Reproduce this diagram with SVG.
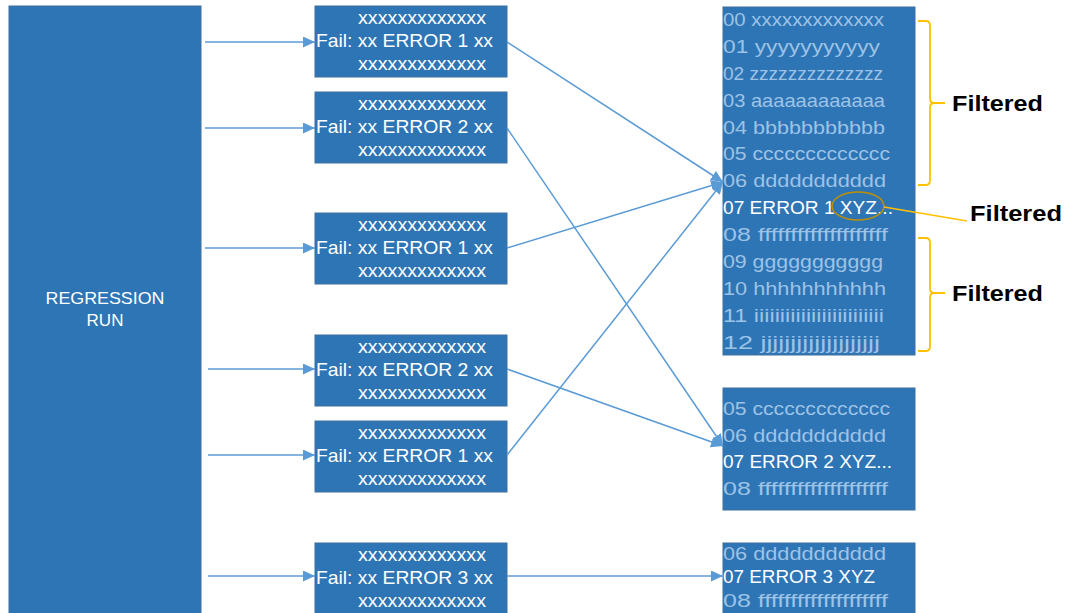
<svg xmlns="http://www.w3.org/2000/svg" width="1068" height="613" viewBox="0 0 1068 613">
<defs>
<style>
.box{fill:#2E75B6;stroke:#41719C;stroke-width:1}
.t{font-family:"Liberation Sans",Arial,sans-serif;font-size:19px;fill:#FFFFFF}
.d{font-family:"Liberation Sans",Arial,sans-serif;font-size:19px;fill:#9DC3E6}
.lbl{font-family:"Liberation Sans",Arial,sans-serif;font-size:22px;font-weight:bold;fill:#000000}
.c{fill:none;stroke:#5B9BD5;stroke-width:1.5}
.br{fill:none;stroke:#FFC000;stroke-width:1.8}
</style>
<marker id="ah" markerUnits="userSpaceOnUse" markerWidth="14" markerHeight="12" refX="12" refY="5.5" orient="auto">
<path d="M0,0 L12,5.5 L0,11 z" fill="#5B9BD5"/>
</marker>
</defs>

<g id="regression-run">
<rect class="box" x="9" y="6" width="192" height="615"/>
<text class="t" x="105" y="304" text-anchor="middle" textLength="119" lengthAdjust="spacingAndGlyphs" style="font-size:17px">REGRESSION</text>
<text class="t" x="105" y="326" text-anchor="middle" style="font-size:17px">RUN</text>
</g>

<g id="fail1">
<rect class="box" x="315" y="6" width="192" height="71"/>
<text class="t" x="358" y="24" textLength="128" lengthAdjust="spacingAndGlyphs">xxxxxxxxxxxxx</text>
<text class="t" x="316" y="47" textLength="177" lengthAdjust="spacingAndGlyphs">Fail: xx ERROR 1 xx</text>
<text class="t" x="358" y="70" textLength="128" lengthAdjust="spacingAndGlyphs">xxxxxxxxxxxxx</text>
</g>
<g id="fail2">
<rect class="box" x="315" y="92" width="192" height="71"/>
<text class="t" x="358" y="110" textLength="128" lengthAdjust="spacingAndGlyphs">xxxxxxxxxxxxx</text>
<text class="t" x="316" y="133" textLength="177" lengthAdjust="spacingAndGlyphs">Fail: xx ERROR 2 xx</text>
<text class="t" x="358" y="156" textLength="128" lengthAdjust="spacingAndGlyphs">xxxxxxxxxxxxx</text>
</g>
<g id="fail3">
<rect class="box" x="315" y="213" width="192" height="71"/>
<text class="t" x="358" y="231" textLength="128" lengthAdjust="spacingAndGlyphs">xxxxxxxxxxxxx</text>
<text class="t" x="316" y="254" textLength="177" lengthAdjust="spacingAndGlyphs">Fail: xx ERROR 1 xx</text>
<text class="t" x="358" y="277" textLength="128" lengthAdjust="spacingAndGlyphs">xxxxxxxxxxxxx</text>
</g>
<g id="fail4">
<rect class="box" x="315" y="335" width="192" height="71"/>
<text class="t" x="358" y="353" textLength="128" lengthAdjust="spacingAndGlyphs">xxxxxxxxxxxxx</text>
<text class="t" x="316" y="376" textLength="177" lengthAdjust="spacingAndGlyphs">Fail: xx ERROR 2 xx</text>
<text class="t" x="358" y="399" textLength="128" lengthAdjust="spacingAndGlyphs">xxxxxxxxxxxxx</text>
</g>
<g id="fail5">
<rect class="box" x="315" y="421" width="192" height="71"/>
<text class="t" x="358" y="439" textLength="128" lengthAdjust="spacingAndGlyphs">xxxxxxxxxxxxx</text>
<text class="t" x="316" y="462" textLength="177" lengthAdjust="spacingAndGlyphs">Fail: xx ERROR 1 xx</text>
<text class="t" x="358" y="485" textLength="128" lengthAdjust="spacingAndGlyphs">xxxxxxxxxxxxx</text>
</g>
<g id="fail6">
<rect class="box" x="315" y="543" width="192" height="75"/>
<text class="t" x="358" y="561" textLength="128" lengthAdjust="spacingAndGlyphs">xxxxxxxxxxxxx</text>
<text class="t" x="316" y="584" textLength="177" lengthAdjust="spacingAndGlyphs">Fail: xx ERROR 3 xx</text>
<text class="t" x="358" y="607" textLength="128" lengthAdjust="spacingAndGlyphs">xxxxxxxxxxxxx</text>
</g>

<g id="log1">
<rect class="box" x="723" y="7" width="192" height="348"/>
<text class="d" x="723" y="26" textLength="161" lengthAdjust="spacingAndGlyphs">00 xxxxxxxxxxxxx</text>
<text class="d" x="723" y="53" textLength="157" lengthAdjust="spacingAndGlyphs">01 yyyyyyyyyyy</text>
<text class="d" x="723" y="80" textLength="160" lengthAdjust="spacingAndGlyphs">02 zzzzzzzzzzzzzz</text>
<text class="d" x="723" y="107" textLength="162" lengthAdjust="spacingAndGlyphs">03 aaaaaaaaaaaa</text>
<text class="d" x="723" y="134" textLength="162" lengthAdjust="spacingAndGlyphs">04 bbbbbbbbbbb</text>
<text class="d" x="723" y="160" textLength="167" lengthAdjust="spacingAndGlyphs">05 ccccccccccccc</text>
<text class="d" x="723" y="187" textLength="163" lengthAdjust="spacingAndGlyphs">06 ddddddddddd</text>
<text class="t" x="723" y="214" textLength="170" lengthAdjust="spacingAndGlyphs">07 ERROR 1 XYZ...</text>
<text class="d" x="723" y="241" textLength="165" lengthAdjust="spacingAndGlyphs">08 ffffffffffffffffffff</text>
<text class="d" x="723" y="268" textLength="160" lengthAdjust="spacingAndGlyphs">09 ggggggggggg</text>
<text class="d" x="723" y="295" textLength="163" lengthAdjust="spacingAndGlyphs">10 hhhhhhhhhhh</text>
<text class="d" x="723" y="322" textLength="161" lengthAdjust="spacingAndGlyphs">11 iiiiiiiiiiiiiiiiiiiiiiiii</text>
<text class="d" x="723" y="349" textLength="157" lengthAdjust="spacingAndGlyphs">12 jjjjjjjjjjjjjjjjjjjj</text>
</g>
<g id="log2">
<rect class="box" x="723" y="388" width="192" height="122"/>
<text class="d" x="723" y="415" textLength="167" lengthAdjust="spacingAndGlyphs">05 ccccccccccccc</text>
<text class="d" x="723" y="442" textLength="163" lengthAdjust="spacingAndGlyphs">06 ddddddddddd</text>
<text class="t" x="723" y="468" textLength="169" lengthAdjust="spacingAndGlyphs">07 ERROR 2 XYZ...</text>
<text class="d" x="723" y="495" textLength="165" lengthAdjust="spacingAndGlyphs">08 ffffffffffffffffffff</text>
</g>
<g id="log3">
<rect class="box" x="723" y="543" width="192" height="75"/>
<text class="d" x="723" y="560" textLength="163" lengthAdjust="spacingAndGlyphs">06 ddddddddddd</text>
<text class="t" x="723" y="583" textLength="152" lengthAdjust="spacingAndGlyphs">07 ERROR 3 XYZ</text>
<text class="d" x="723" y="607" textLength="165" lengthAdjust="spacingAndGlyphs">08 ffffffffffffffffffff</text>
</g>

<g id="connectors">
<line class="c" x1="205" y1="42" x2="315" y2="42" marker-end="url(#ah)"/>
<line class="c" x1="205" y1="128" x2="315" y2="128" marker-end="url(#ah)"/>
<line class="c" x1="205" y1="248" x2="315" y2="248" marker-end="url(#ah)"/>
<line class="c" x1="208" y1="369" x2="315" y2="369" marker-end="url(#ah)"/>
<line class="c" x1="208" y1="455" x2="315" y2="455" marker-end="url(#ah)"/>
<line class="c" x1="208" y1="576" x2="315" y2="576" marker-end="url(#ah)"/>
<line class="c" x1="507" y1="42" x2="723" y2="182" marker-end="url(#ah)"/>
<line class="c" x1="507" y1="248" x2="723" y2="182" marker-end="url(#ah)"/>
<line class="c" x1="507" y1="455" x2="723" y2="182" marker-end="url(#ah)"/>
<line class="c" x1="507" y1="128" x2="723" y2="446" marker-end="url(#ah)"/>
<line class="c" x1="507" y1="369" x2="723" y2="446" marker-end="url(#ah)"/>
<line class="c" x1="507" y1="576" x2="723" y2="576" marker-end="url(#ah)"/>
</g>

<g id="filtered-top">
<path class="br" d="M918,21 H926 Q930,21 930,26 V98 Q930,103 934,103 H945 M934,103 Q930,103 930,108 V180 Q930,185 926,185 H918"/>
<text class="lbl" x="952" y="111" textLength="91" lengthAdjust="spacingAndGlyphs">Filtered</text>
</g>
<g id="filtered-mid">
<ellipse cx="858" cy="206" rx="26" ry="14" fill="none" stroke="#BF9000" stroke-width="1.5"/>
<line x1="884" y1="207" x2="967" y2="221" stroke="#FFC000" stroke-width="1.5"/>
<text class="lbl" x="970" y="221" textLength="92" lengthAdjust="spacingAndGlyphs">Filtered</text>
</g>
<g id="filtered-bottom">
<path class="br" d="M918,238 H926 Q930,238 930,243 V288 Q930,293 934,293 H945 M934,293 Q930,293 930,298 V346 Q930,351 926,351 H918"/>
<text class="lbl" x="952" y="301" textLength="91" lengthAdjust="spacingAndGlyphs">Filtered</text>
</g>
</svg>
